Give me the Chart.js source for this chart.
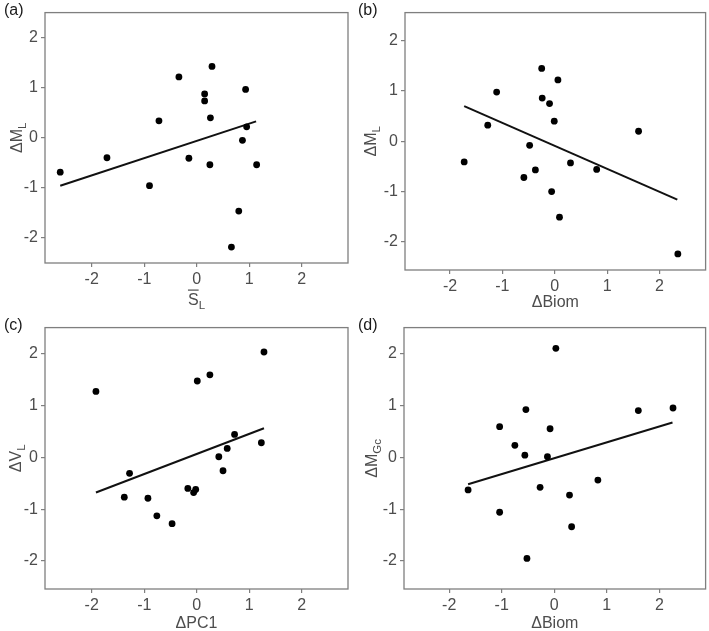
<!DOCTYPE html>
<html>
<head>
<meta charset="utf-8">
<script src="https://cdn.jsdelivr.net/npm/chart.js@4.4.1/dist/chart.umd.min.js"></script>
<style>
  body { margin: 0; background: #fff; }
  #fig { position: relative; width: 709px; height: 631px; }
  canvas { position: absolute; }
</style>
</head>
<body>
<div id="fig">
  <canvas id="pa" width="354" height="315" style="left:0;top:0"></canvas>
  <canvas id="pb" width="355" height="315" style="left:354px;top:0"></canvas>
  <canvas id="pc" width="354" height="316" style="left:0;top:315px"></canvas>
  <canvas id="pd" width="355" height="316" style="left:354px;top:315px"></canvas>
</div>
<script>
// tick labels (same on every panel)
const tickVals = [-2, -1, 0, 1, 2];

// (a) S_L vs dM_L
const slA = [-2.60, -1.71, -0.90, -0.72, -0.34, -0.15, 0.15, 0.15, 0.29, 0.26, 0.25, 0.93, 0.95, 0.87, 1.14, 0.80, 0.66];
const mlA = [-0.69, -0.40, -0.96, 0.34, 1.22, -0.41, 0.88, 0.74, 1.43, 0.40, -0.54, 0.97, 0.22, -0.05, -0.54, -1.47, -2.19];
const fitAx = [-2.60, 1.13];
const fitAy = [-0.96, 0.33];

// (b) dBiom vs dM_L
const biomB = [-1.73, -1.28, -1.11, -0.59, -0.48, -0.37, -0.25, -0.24, -0.10, -0.01, 0.06, -0.06, 0.09, 0.30, 0.80, 1.60, 2.35];
const mlB = [-0.41, 0.32, 0.98, -0.72, -0.08, -0.57, 1.45, 0.86, 0.75, 0.40, 1.22, -1.00, -1.51, -0.43, -0.56, 0.20, -2.24];
const fitBx = [-1.73, 2.34];
const fitBy = [0.70, -1.16];

// (c) dPC1 vs dV_L
const pcC = [-1.92, -1.38, -1.28, -0.93, -0.76, -0.47, -0.17, -0.06, -0.02, 0.01, 0.25, 0.42, 0.50, 0.58, 0.72, 1.23, 1.28];
const vlC = [1.27, -0.77, -0.31, -0.79, -1.13, -1.28, -0.60, -0.68, -0.62, 1.47, 1.59, 0.01, -0.26, 0.17, 0.44, 0.28, 2.03];
const fitCx = [-1.92, 1.28];
const fitCy = [-0.68, 0.56];

// (d) dBiom vs dM_Gc
const biomD = [-1.64, -1.04, -1.04, -0.75, -0.54, -0.56, -0.52, -0.27, -0.13, -0.08, 0.03, 0.29, 0.33, 0.83, 1.60, 2.26];
const mgD = [-0.63, 0.59, -1.06, 0.23, 0.92, 0.04, -1.95, -0.58, 0.01, 0.55, 2.10, -0.73, -1.34, -0.44, 0.90, 0.95];
const fitDx = [-1.64, 2.25];
const fitDy = [-0.52, 0.67];

Chart.defaults.font.family = "'Liberation Sans', Arial, sans-serif";
Chart.defaults.font.size = 16;
Chart.defaults.color = '#4d4d4d';

const txtGrey = '#4d4d4d';
const frameGrey = '#7f7f7f';

// draws a title made of normal / subscript / overlined pieces
function drawParts(ctx, parts) {
  const mainF = "16px 'Liberation Sans', Arial, sans-serif";
  const subF = "11.5px 'Liberation Sans', Arial, sans-serif";
  let total = 0;
  parts.forEach(p => {
    ctx.font = p.sub ? subF : mainF;
    p.w = ctx.measureText(p.t).width;
    total += p.w;
  });
  let x = -total / 2;
  parts.forEach(p => {
    ctx.font = p.sub ? subF : mainF;
    ctx.fillText(p.t, x, p.sub ? 4 : 0);
    if (p.over) {
      ctx.fillRect(x, -15.5, p.w, 1.2);
    }
    x += p.w;
  });
}

const figText = {
  id: 'figText',
  afterDraw(chart, args, o) {
    const ctx = chart.ctx;
    const a = chart.chartArea;
    ctx.save();
    // frame
    ctx.strokeStyle = frameGrey;
    ctx.lineWidth = 1.3;
    ctx.strokeRect(a.left, a.top, a.right - a.left, a.bottom - a.top);
    ctx.fillStyle = txtGrey;
    ctx.textBaseline = 'alphabetic';
    ctx.textAlign = 'left';
    // x title
    ctx.save();
    ctx.translate((a.left + a.right) / 2, o.xTitleY);
    drawParts(ctx, o.xTitle);
    ctx.restore();
    // y title
    ctx.save();
    ctx.translate(o.yTitleX, (a.top + a.bottom) / 2);
    ctx.rotate(-Math.PI / 2);
    drawParts(ctx, o.yTitle);
    ctx.restore();
    // panel letter
    ctx.fillStyle = '#1a1a1a';
    ctx.font = "16px 'Liberation Sans', Arial, sans-serif";
    ctx.fillText(o.label, 4, 15);
    ctx.restore();
  }
};

function makePanel(id, p) {
  const pts = p.xs.map((v, i) => ({ x: v, y: p.ys[i] }));
  const fit = p.fx.map((v, i) => ({ x: v, y: p.fy[i] }));
  const axis = (min, max) => ({
    type: 'linear',
    min: min,
    max: max,
    grid: { display: true, drawOnChartArea: false, drawTicks: true, tickLength: 4, color: frameGrey, lineWidth: 1.2 },
    border: { display: false },
    ticks: { includeBounds: false, padding: 3, color: txtGrey, font: { size: 16 } },
    afterBuildTicks: s => { s.ticks = tickVals.map(v => ({ value: v })); }
  });
  const xs = axis(p.xMin, p.xMax);
  xs.afterFit = s => { s.height = p.xH; };
  const ys = axis(p.yMin, p.yMax);
  ys.afterFit = s => { s.width = p.yW; };
  return new Chart(document.getElementById(id), {
    type: 'scatter',
    data: {
      datasets: [
        { data: pts, pointRadius: 3.4, pointHoverRadius: 3.4, backgroundColor: '#000', borderWidth: 0 },
        { data: fit, showLine: true, pointRadius: 0, borderColor: '#111', borderWidth: 2, fill: false }
      ]
    },
    options: {
      responsive: false,
      animation: false,
      layout: { padding: { top: p.top, right: p.right, left: 0, bottom: 0 } },
      plugins: {
        legend: { display: false },
        tooltip: { enabled: false },
        figText: { label: p.label, xTitle: p.xTitle, yTitle: p.yTitle, xTitleY: p.xTitleY, yTitleX: p.yTitleX }
      },
      scales: { x: xs, y: ys }
    },
    plugins: [figText]
  });
}

makePanel('pa', {
  xs: slA, ys: mlA, fx: fitAx, fy: fitAy,
  xMin: -2.89, xMax: 2.88, yMin: -2.51, yMax: 2.51,
  top: 6, right: 6, yW: 45, xH: 52,
  label: '(a)',
  xTitle: [{ t: 'S', over: true }, { t: 'L', sub: true }],
  yTitle: [{ t: '\u0394M' }, { t: 'L', sub: true }],
  xTitleY: 305, yTitleX: 22
});

makePanel('pb', {
  xs: biomB, ys: mlB, fx: fitBx, fy: fitBy,
  xMin: -2.86, xMax: 2.88, yMin: -2.56, yMax: 2.56,
  top: 6, right: 2, yW: 51, xH: 45,
  label: '(b)',
  xTitle: [{ t: '\u0394Biom' }],
  yTitle: [{ t: '\u0394M' }, { t: 'L', sub: true }],
  xTitleY: 307, yTitleX: 22
});

makePanel('pc', {
  xs: pcC, ys: vlC, fx: fitCx, fy: fitCy,
  xMin: -2.89, xMax: 2.88, yMin: -2.54, yMax: 2.50,
  top: 11, right: 6, yW: 45, xH: 42,
  label: '(c)',
  xTitle: [{ t: '\u0394PC1' }],
  yTitle: [{ t: '\u0394V' }, { t: 'L', sub: true }],
  xTitleY: 313, yTitleX: 21
});

makePanel('pd', {
  xs: biomD, ys: mgD, fx: fitDx, fy: fitDy,
  xMin: -2.86, xMax: 2.88, yMin: -2.54, yMax: 2.50,
  top: 11, right: 2, yW: 50, xH: 42,
  label: '(d)',
  xTitle: [{ t: '\u0394Biom' }],
  yTitle: [{ t: '\u0394M' }, { t: 'Gc', sub: true }],
  xTitleY: 313, yTitleX: 23
});
</script>
</body>
</html>
